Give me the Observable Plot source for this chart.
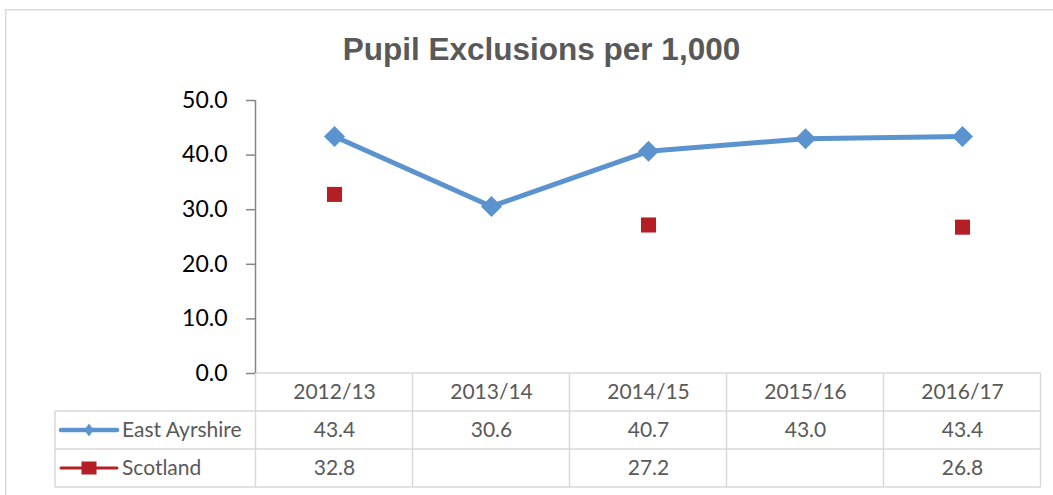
<!DOCTYPE html>
<html><head><meta charset="utf-8">
<script src="https://cdn.jsdelivr.net/npm/d3@7"></script>
<script src="https://cdn.jsdelivr.net/npm/@observablehq/plot@0.6"></script>
<style>
html,body{margin:0;padding:0;background:#fff;overflow:hidden;}
#wrap{position:relative;width:1053px;height:495px;overflow:hidden;}
</style>
</head><body><div id="wrap"></div>
<script>
const title = "Pupil Exclusions per 1,000";
const categories = ["2012/13","2013/14","2014/15","2015/16","2016/17"];
const seriesNames = ["East Ayrshire","Scotland"];
const eastAyrshire = [43.4,30.6,40.7,43.0,43.4];
const scotland = [32.8,null,27.2,null,26.8];
const yTicks = [0,10,20,30,40,50];

const blue = "#5B93CF", red = "#B41F26", grid = "#d9d9d9", axisGray = "#868686", textGray = "#595959";
const ea = categories.map((c,i)=>({cat:c, v:eastAyrshire[i]}));
const sc = categories.map((c,i)=>({cat:c, v:scotland[i]})).filter(d=>d.v!=null);
const fmt = d => d.toFixed(1);
const tableFont = 21;

const plot = Plot.plot({
  width:1053, height:495,
  marginLeft:255, marginRight:13, marginTop:100, marginBottom:122,
  x:{type:"point", domain:categories, padding:0.5, axis:null},
  y:{domain:[0,50]},
  style:{fontFamily:"Lato, sans-serif", background:"transparent", overflow:"visible"},
  marks:[
    Plot.axisY(yTicks, {tickFormat:fmt, tickSize:9, tickPadding:19, fontSize:23, stroke:axisGray, strokeWidth:1.5, fill:"#000", label:null}),
    Plot.line(ea, {x:"cat", y:"v", stroke:blue, strokeWidth:5}),
    Plot.dot(ea, {x:"cat", y:"v", symbol:"diamond2", r:9.5, fill:blue}),
    Plot.dot(sc, {x:"cat", y:"v", symbol:"square", r:8.5, fill:red}),
    Plot.text(categories, {x:d=>d, text:d=>d, frameAnchor:"bottom", lineAnchor:"middle", dy:19, fontSize:tableFont, fill:textGray}),
    Plot.text(ea, {x:"cat", text:d=>fmt(d.v), frameAnchor:"bottom", lineAnchor:"middle", dy:57, fontSize:tableFont, fill:textGray}),
    Plot.text(sc, {x:"cat", text:d=>fmt(d.v), frameAnchor:"bottom", lineAnchor:"middle", dy:95, fontSize:tableFont, fill:textGray})
  ]
});
document.getElementById("wrap").appendChild(plot);

const svg = d3.select(plot);
const xs = plot.scale("x"), ys = plot.scale("y");
const centers = categories.map(c=>xs.apply(c));
const step = centers[1]-centers[0];
const left = centers[0]-step/2, right = centers[centers.length-1]+step/2;
const y0 = ys.apply(0), yTop = ys.apply(50);
const rowH = 38, tableLeft = 55;

const g = svg.insert("g", ":first-child").attr("stroke", grid).attr("stroke-width", 1.5).attr("fill","none");
g.append("rect").attr("x",5.75).attr("y",9.75).attr("width",1200).attr("height",700);
g.append("line").attr("x1",left).attr("x2",right).attr("y1",y0).attr("y2",y0);
for (let k=1;k<=3;k++) g.append("line").attr("x1",tableLeft).attr("x2",right).attr("y1",y0+rowH*k).attr("y2",y0+rowH*k);
for (let i=0;i<=categories.length;i++) g.append("line").attr("x1",left+step*i).attr("x2",left+step*i).attr("y1",y0).attr("y2",y0+rowH*3);
g.append("line").attr("x1",tableLeft).attr("x2",tableLeft).attr("y1",y0+rowH).attr("y2",y0+rowH*3);
svg.append("line").attr("x1",left).attr("x2",left).attr("y1",yTop).attr("y2",y0).attr("stroke",axisGray).attr("stroke-width",1.5);

// legend keys inside the table
const leg = svg.append("g");
const keyX1 = tableLeft+6, keyX2 = tableLeft+62, keyMid = (keyX1+keyX2)/2;
const r1 = y0 + rowH*1.5, r2 = y0 + rowH*2.5;
leg.append("line").attr("x1",keyX1).attr("x2",keyX2).attr("y1",r1).attr("y2",r1).attr("stroke",blue).attr("stroke-width",4.5).attr("stroke-linecap","round");
leg.append("path").attr("d",`M${keyMid},${r1-6.5}L${keyMid+4.5},${r1}L${keyMid},${r1+6.5}L${keyMid-4.5},${r1}Z`).attr("fill",blue);
leg.append("line").attr("x1",keyX1).attr("x2",keyX2).attr("y1",r2).attr("y2",r2).attr("stroke",red).attr("stroke-width",3).attr("stroke-linecap","round");
leg.append("rect").attr("x",keyMid-7.5).attr("y",r2-6.5).attr("width",15).attr("height",13).attr("fill",red);
[r1,r2].forEach((ry,i)=>{
  leg.append("text").attr("x",keyX2+5).attr("y",ry).attr("dy","0.35em").attr("fill",textGray)
    .attr("text-anchor","start").attr("font-family","Lato, sans-serif").attr("font-size",tableFont).text(seriesNames[i]);
});

svg.append("text").attr("x",541.5).attr("y",60).attr("text-anchor","middle")
  .attr("font-family","'Liberation Sans', Arial, sans-serif").attr("font-weight","bold").attr("font-size",31.5)
  .attr("fill",textGray).text(title);
</script>
</body></html>
